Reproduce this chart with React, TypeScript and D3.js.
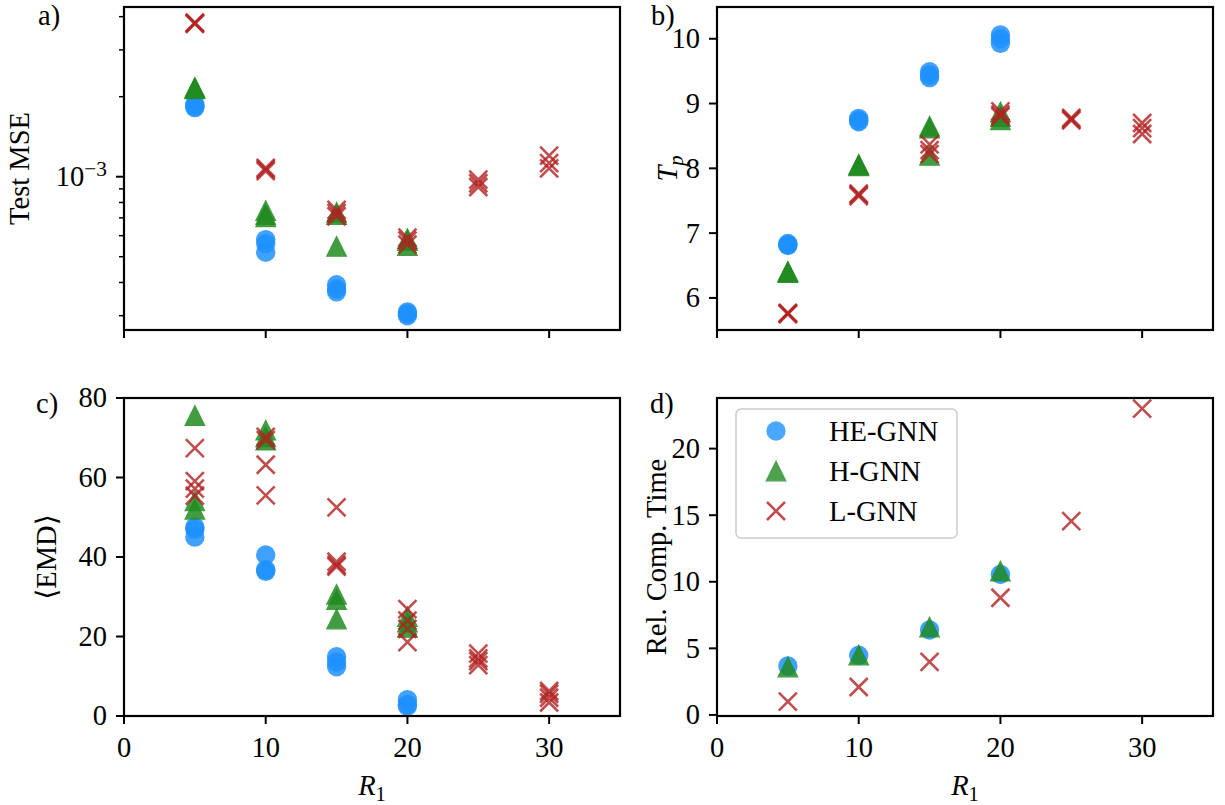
import React from "react";
import * as d3 from "d3";

const R1 = [5, 10, 15, 20, 25, 30];
const xTickValues = [0, 10, 20, 30];
const seriesNames = ["HE-GNN", "H-GNN", "L-GNN"];

// a) Test MSE (values per R1 group, several seeds)
const mseHE = [[1.87e-3, 1.84e-3, 1.82e-3], [5.8e-4, 5.6e-4, 5.2e-4], [3.92e-4, 3.78e-4, 3.69e-4], [3.1e-4, 3.05e-4, 3.0e-4]];
const mseH = [[2.17e-3, 2.15e-3, 2.14e-3], [7.45e-4, 7.2e-4, 7.07e-4], [7.35e-4, 7.2e-4, 5.47e-4], [5.85e-4, 5.75e-4, 5.5e-4]];
const mseL = [[3.8e-3, 3.78e-3, 3.76e-3], [1.08e-3, 1.065e-3, 1.05e-3], [7.5e-4, 7.3e-4, 7.1e-4], [5.9e-4, 5.75e-4, 5.55e-4], [9.75e-4, 9.45e-4, 9.15e-4], [1.2e-3, 1.125e-3, 1.075e-3]];

// b) T_p
const tpHE = [[6.84, 6.82, 6.81], [8.77, 8.74, 8.72], [9.49, 9.44, 9.4], [10.06, 10.0, 9.93]];
const tpH = [[6.41, 6.4, 6.39], [8.06, 8.05, 8.04], [8.65, 8.62, 8.2], [8.87, 8.8, 8.75]];
const tpL = [[5.77, 5.76, 5.75], [7.61, 7.59, 7.57], [8.37, 8.28, 8.22], [8.88, 8.83, 8.8], [8.78, 8.76, 8.74], [8.7, 8.62, 8.53]];

// c) <EMD>
const emdHE = [[47.5, 47.0, 45.0], [40.5, 36.8, 36.4], [14.9, 13.6, 12.4], [4.1, 2.9, 2.5]];
const emdH = [[75.6, 54.1, 52.0], [71.9, 70.2, 69.4], [30.6, 29.3, 24.4], [25.0, 23.6, 22.3]];
const emdL = [[67.4, 59.1, 57.2, 55.4], [70.2, 69.4, 63.2, 55.5], [52.5, 38.8, 38.0, 37.6], [26.9, 24.0, 21.9, 18.6], [15.7, 14.5, 13.8, 12.8], [6.3, 5.6, 4.6, 3.4]];

// d) Rel. Comp. Time
const timeHE = [[3.68], [4.48], [6.38], [10.55]];
const timeH = [[3.6], [4.5], [6.6], [10.8]];
const timeL = [[1.0], [2.1], [3.98], [8.8], [14.55], [23.0]];

const mseMajorTicks = [1e-3];
const mseMinorTicks = [3e-4, 4e-4, 5e-4, 6e-4, 7e-4, 8e-4, 9e-4, 2e-3, 3e-3, 4e-3];
const tpTicks = [6, 7, 8, 9, 10];
const emdTicks = [0, 20, 40, 60, 80];
const timeTicks = [0, 5, 10, 15, 20];

const COLORS = ["#1E90FF", "#228B22", "#B22222"];
const OPAC = [0.85, 0.85, 0.8];
const SHAPES = ["circle", "triangle", "x"];

const FONT = "'Liberation Serif', 'DejaVu Serif', serif";
const FS = 28.5;

function Marker({ shape, cx, cy, color, opacity }: any) {
  if (shape === "circle") {
    return <circle cx={cx} cy={cy} r={9.7} fill={color} opacity={opacity} />;
  }
  if (shape === "triangle") {
    const r = 9.8;
    return (
      <path
        d={`M${cx},${cy - r}L${cx - r},${cy + r}L${cx + r},${cy + r}Z`}
        fill={color}
        stroke={color}
        strokeWidth={1.2}
        opacity={opacity}
      />
    );
  }
  const r = 9;
  return (
    <path
      d={`M${cx - r},${cy - r}L${cx + r},${cy + r}M${cx - r},${cy + r}L${cx + r},${cy - r}`}
      stroke={color}
      strokeWidth={2.6}
      fill="none"
      opacity={opacity}
    />
  );
}

type PanelProps = {
  left: number;
  top: number;
  w: number;
  h: number;
  y: any;
  yTicks: number[];
  yMinor?: number[];
  yTickLabel: (v: number) => any;
  showX: boolean;
  ylabel: any;
  ylabelX: number;
  tag: string;
  tagX: number;
  tagY: number;
  data: number[][][];
  legend?: boolean;
};

function Panel(p: PanelProps) {
  const x = d3.scaleLinear().domain([0, 35]).range([p.left, p.left + p.w]);
  const y = p.y;
  const bottom = p.top + p.h;
  return (
    <g>
      {p.data.map((groups, si) => (
        <g key={si}>
          {groups.map((vals, gi) =>
            vals.map((v, k) => (
              <Marker
                key={gi + "-" + k}
                shape={SHAPES[si]}
                cx={x(R1[gi])}
                cy={y(v)}
                color={COLORS[si]}
                opacity={OPAC[si]}
              />
            ))
          )}
        </g>
      ))}
      <rect x={p.left} y={p.top} width={p.w} height={p.h} fill="none" stroke="#000" strokeWidth={2.2} />
      {xTickValues.map((t) => (
        <g key={"xt" + t}>
          <line x1={x(t)} x2={x(t)} y1={bottom} y2={bottom + 8} stroke="#000" strokeWidth={2} />
          {p.showX && (
            <text x={x(t)} y={bottom + 41} textAnchor="middle" fontSize={FS} fontFamily={FONT}>
              {t}
            </text>
          )}
        </g>
      ))}
      {p.yTicks.map((t) => (
        <g key={"yt" + t}>
          <line x1={p.left - 8} x2={p.left} y1={y(t)} y2={y(t)} stroke="#000" strokeWidth={2} />
          <text x={p.left - 17} y={y(t)} dy="0.33em" textAnchor="end" fontSize={FS} fontFamily={FONT}>
            {p.yTickLabel(t)}
          </text>
        </g>
      ))}
      {(p.yMinor || []).map((t) => (
        <line key={"ym" + t} x1={p.left - 5} x2={p.left} y1={y(t)} y2={y(t)} stroke="#000" strokeWidth={1.5} />
      ))}
      {p.showX && (
        <text x={p.left + p.w / 2} y={bottom + 79} textAnchor="middle" fontSize={FS} fontFamily={FONT}>
          <tspan fontStyle="italic">R</tspan>
          <tspan fontSize="72%" dy="0.3em">1</tspan>
        </text>
      )}
      <text
        transform={`translate(${p.ylabelX},${p.top + p.h / 2}) rotate(-90)`}
        dy="0.35em"
        textAnchor="middle"
        fontSize={FS}
        fontFamily={FONT}
      >
        {p.ylabel}
      </text>
      <text x={p.tagX} y={p.tagY} fontSize={FS} fontFamily={FONT}>
        {p.tag}
      </text>
      {p.legend && (
        <g>
          <rect x={p.left + 19} y={p.top + 11} width={221} height={129} rx={5} fill="#fff" fillOpacity={0.8} stroke="#cccccc" strokeWidth={1.5} />
          {seriesNames.map((n, i) => (
            <g key={n}>
              <Marker shape={SHAPES[i]} cx={p.left + 59} cy={p.top + 33 + i * 40} color={COLORS[i]} opacity={0.8} />
              <text x={p.left + 112} y={p.top + 33 + i * 40 + 9.5} fontSize={FS} fontFamily={FONT}>
                {n}
              </text>
            </g>
          ))}
        </g>
      )}
    </g>
  );
}

export default function App() {
  const W = 1225;
  const H = 805;
  const pw = 496;
  const topRow = 7;
  const topH = 323;
  const botRow = 398;
  const botH = 318;
  const leftA = 124;
  const leftB = 717;

  const yMse = d3.scaleLog().domain([2.65e-4, 4.35e-3]).range([topRow + topH, topRow]);
  const yTp = d3.scaleLinear().domain([5.505, 10.49]).range([topRow + topH, topRow]);
  const yEmd = d3.scaleLinear().domain([0, 80]).range([botRow + botH, botRow]);
  const yTime = d3.scaleLinear().domain([-0.08, 23.8]).range([botRow + botH, botRow]);

  return (
    <svg
      width={W}
      height={H}
      viewBox={`0 0 ${W} ${H}`}
      style={{ position: "absolute", left: 0, top: 0, background: "#fff" }}
    >
      <rect x={0} y={0} width={W} height={H} fill="#fff" />
      <Panel
        left={leftA}
        top={topRow}
        w={pw}
        h={topH}
        y={yMse}
        yTicks={mseMajorTicks}
        yMinor={mseMinorTicks}
        yTickLabel={() => (
          <>
            <tspan>10</tspan>
            <tspan fontSize="75%" dy="-0.45em">−3</tspan>
          </>
        )}
        showX={false}
        ylabel={"Test MSE"}
        ylabelX={19}
        tag="a)"
        tagX={38}
        tagY={25}
        data={[mseHE, mseH, mseL]}
      />
      <Panel
        left={leftB}
        top={topRow}
        w={pw}
        h={topH}
        y={yTp}
        yTicks={tpTicks}
        yTickLabel={(v) => String(v)}
        showX={false}
        ylabel={
          <>
            <tspan fontStyle="italic">T</tspan>
            <tspan fontStyle="italic" fontSize="72%" dy="0.3em">p</tspan>
          </>
        }
        ylabelX={667}
        tag="b)"
        tagX={651}
        tagY={25}
        data={[tpHE, tpH, tpL]}
      />
      <Panel
        left={leftA}
        top={botRow}
        w={pw}
        h={botH}
        y={yEmd}
        yTicks={emdTicks}
        yTickLabel={(v) => String(v)}
        showX={true}
        ylabel={"⟨EMD⟩"}
        ylabelX={46}
        tag="c)"
        tagX={36}
        tagY={413}
        data={[emdHE, emdH, emdL]}
      />
      <Panel
        left={leftB}
        top={botRow}
        w={pw}
        h={botH}
        y={yTime}
        yTicks={timeTicks}
        yTickLabel={(v) => String(v)}
        showX={true}
        ylabel={"Rel. Comp. Time"}
        ylabelX={656}
        tag="d)"
        tagX={650}
        tagY={413}
        data={[timeHE, timeH, timeL]}
        legend={true}
      />
    </svg>
  );
}
